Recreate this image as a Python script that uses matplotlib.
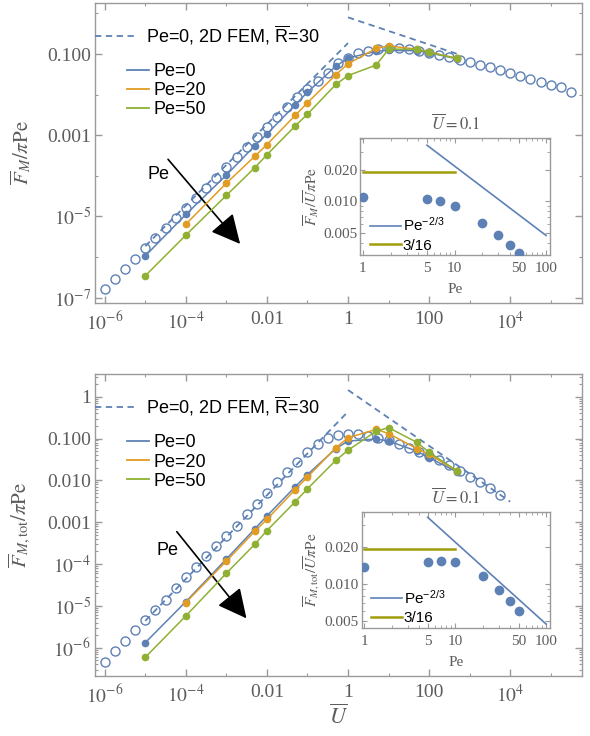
import matplotlib
matplotlib.use("Agg")
import matplotlib.pyplot as plt
import numpy as np
from matplotlib.lines import Line2D
from matplotlib.ticker import FixedLocator, FixedFormatter, NullFormatter, LogLocator

plt.rcParams['font.family'] = 'serif'
plt.rcParams['font.serif'] = ['Liberation Serif', 'DejaVu Serif']
# STIX for the maths, Liberation Sans for \mathsf (upright R in the legend)
plt.rcParams['mathtext.fontset'] = 'custom'
plt.rcParams['mathtext.rm'] = 'STIXGeneral'
plt.rcParams['mathtext.it'] = 'STIXGeneral:italic'
plt.rcParams['mathtext.bf'] = 'STIXGeneral:bold'
plt.rcParams['mathtext.sf'] = 'Liberation Sans'

BLUE = '#5e81b5'
ORANGE = '#e19c24'
GREEN = '#8fb032'
OLIVE = '#a09d0b'
GRAY = '#5c5c5c'
FRAME = '#9a9a9a'
SANS = 'Liberation Sans'

# ---- data (main panels, y values read as log10) ----
U = [1e-5, 1e-4, 1e-3, 5e-3, 1e-2, 5e-2, 0.1, 0.5, 1, 5, 10, 50, 100, 500]
U_pe20 = U[1:]

logF_top_pe0 = [-5.97, -4.95, -3.98, -3.26, -2.97, -2.25, -1.94, -1.30, -1.10, -0.93, -0.91, -0.92, -0.97, -1.12]
logF_top_pe20 = [-5.19, -4.18, -3.52, -3.23, -2.51, -2.20, -1.51, -1.24, -0.86, -0.80, -0.88, -0.95, -1.11]
logF_top_pe50 = [-6.46, -5.46, -4.48, -3.80, -3.48, -2.77, -2.48, -1.75, -1.53, -1.27, -0.88, -0.88, -0.96, -1.11]

logF_bot_pe0 = [-5.88, -4.90, -3.88, -3.16, -2.85, -2.15, -1.86, -1.24, -1.06, -1.01, -1.06, -1.30, -1.46, -1.80]
logF_bot_pe20 = [-4.92, -3.93, -3.22, -2.93, -2.22, -1.92, -1.22, -0.98, -0.78, -0.88, -1.24, -1.38, -1.78]
logF_bot_pe50 = [-6.23, -5.24, -4.22, -3.53, -3.20, -2.51, -2.20, -1.52, -1.28, -0.82, -0.74, -1.09, -1.33, -1.78]

# 2D FEM (Pe=0, R=30), open circles
fem_logU_top = [-6.0, -5.75, -5.5, -5.25, -5.0, -4.75, -4.5, -4.25, -4.0, -3.75, -3.5, -3.25,
                -3.0, -2.75, -2.5, -2.25, -2.0, -1.75, -1.5, -1.25, -1.0, -0.75, -0.5, -0.25,
                0.0, 0.25, 0.5, 0.75, 1.0, 1.25, 1.5, 1.75, 2.0, 2.25, 2.5, 2.75,
                3.0, 3.25, 3.5, 3.75, 4.0, 4.25, 4.5, 4.75, 5.0, 5.25, 5.5]
fem_logF_top = [-6.79, -6.54, -6.29, -6.04, -5.78, -5.54, -5.29, -5.04, -4.79, -4.54, -4.29, -4.04,
                -3.79, -3.54, -3.29, -3.04, -2.80, -2.55, -2.31, -2.07, -1.85, -1.66, -1.46, -1.23,
                -1.10, -0.98, -0.92, -0.88, -0.86, -0.86, -0.88, -0.92, -0.97, -1.02, -1.08, -1.15,
                -1.20, -1.27, -1.33, -1.40, -1.46, -1.53, -1.61, -1.69, -1.77, -1.82, -1.93]
fem_logU_bot = fem_logU_top[:40]
fem_logF_bot = [-6.33, -6.09, -5.83, -5.58, -5.33, -5.09, -4.85, -4.58, -4.32, -4.08, -3.80, -3.56,
                -3.33, -3.08, -2.81, -2.56, -2.30, -2.05, -1.81, -1.57, -1.33, -1.14, -0.98, -0.92,
                -0.89, -0.89, -0.93, -0.98, -1.04, -1.14, -1.23, -1.32, -1.41, -1.51, -1.62, -1.77,
                -1.92, -2.05, -2.19, -2.36]

# FEM asymptotes (dashed)
asym_lo_U = [1e-5, 1.0]
asym_lo_top = [1.86e-6, 0.186]
asym_lo_bot = [4.4e-6, 0.44]
asym_hi_U_top = [1.0, 500.0]
asym_hi_top = [0.80, 0.10]
asym_hi_U_bot = [1.0, 1e4]
asym_hi_bot = [1.45, 0.0031]

# ---- inset data (U = 0.1) ----
pe_inset = [1, 5, 7, 10, 20, 30, 40, 50]
inset_top = [0.0109, 0.0105, 0.0101, 0.0091, 0.0062, 0.0047, 0.0038, 0.0032]
inset_bot = [0.0138, 0.0149, 0.0153, 0.0149, 0.0116, 0.0089, 0.0072, 0.0060]
pe_power = [5, 100]
power_line = [0.0347, 0.0047]
pe_const = [1, 10]
const_line = [0.019, 0.019]

xtick_vals = [1e-6, 1e-4, 1e-2, 1, 1e2, 1e4]
xtick_labels = [r'$10^{-6}$', r'$10^{-4}$', '0.01', '1', '100', r'$10^{4}$']
xminor_vals = [1e-5, 1e-3, 1e-1, 10, 1e3, 1e5]


def style_frame(ax, size):
    for s in ax.spines.values():
        s.set_color(FRAME)
        s.set_linewidth(1.0)
    ax.tick_params(which='both', direction='in', top=True, right=True,
                   color=FRAME, labelcolor=GRAY, labelsize=size)


def main_panel(ax, fu, ff, lo, hi_u, hi, b, o, g, ylab, ylim, yt, ytl, yminor):
    ax.set_xscale('log')
    ax.set_yscale('log')
    ax.plot(10 ** np.array(fu), 10 ** np.array(ff), 'o', mfc='none', mec=BLUE, ms=6.5, mew=1.0, zorder=2)
    ax.plot(asym_lo_U, lo, '--', color=BLUE, lw=1.3, dashes=(3.5, 2.5), zorder=2)
    ax.plot(hi_u, hi, '--', color=BLUE, lw=1.3, dashes=(3.5, 2.5), zorder=2)
    ax.plot(U, 10 ** np.array(b), '-o', color=BLUE, ms=4.5, lw=1.1, zorder=3)
    ax.plot(U_pe20, 10 ** np.array(o), '-o', color=ORANGE, ms=4.5, lw=1.1, zorder=4)
    ax.plot(U, 10 ** np.array(g), '-o', color=GREEN, ms=4.5, lw=1.1, zorder=5)
    ax.set_xlim(10 ** -6.24, 10 ** 5.77)
    ax.set_ylim(*ylim)
    style_frame(ax, 14)
    ax.tick_params(which='major', length=5, width=1)
    ax.tick_params(which='minor', length=2.5, width=0.8)
    ax.tick_params(axis='x', which='both', pad=6)
    ax.tick_params(axis='y', which='both', pad=3)
    ax.xaxis.set_major_locator(FixedLocator(xtick_vals))
    ax.xaxis.set_major_formatter(FixedFormatter(xtick_labels))
    ax.xaxis.set_minor_locator(FixedLocator(xminor_vals))
    ax.xaxis.set_minor_formatter(NullFormatter())
    ax.yaxis.set_major_locator(FixedLocator(yt))
    ax.yaxis.set_major_formatter(FixedFormatter(ytl))
    ax.yaxis.set_minor_locator(yminor)
    ax.yaxis.set_minor_formatter(NullFormatter())
    ax.set_ylabel(ylab, color=GRAY, fontsize=15)
    ax.yaxis.set_label_coords(-0.127, 0.5)

    dash_h = Line2D([], [], color=BLUE, ls='--', lw=1.3, dashes=(3.5, 2.5))
    leg1 = ax.legend([dash_h], [r'Pe=0, 2D FEM, $\overline{\mathsf{R}}$=30'], loc='center left',
                     bbox_to_anchor=(0.0, 0.893), frameon=False, borderpad=0, borderaxespad=0,
                     handlelength=2.3, handletextpad=0.55, prop={'family': SANS, 'size': 13})
    ax.add_artist(leg1)
    hs = [Line2D([], [], color=c, lw=1.3) for c in (BLUE, ORANGE, GREEN)]
    ax.legend(hs, ['Pe=0', 'Pe=20', 'Pe=50'], loc='upper left', bbox_to_anchor=(0.0657, 0.80),
              frameon=False, borderpad=0, borderaxespad=0, handlelength=1.2, handletextpad=0.25,
              labelspacing=0.12, prop={'family': SANS, 'size': 13})


def inset_panel(ax, vals, ylim, ylab):
    ax.set_xscale('log')
    ax.set_yscale('log')
    ax.plot(pe_inset, vals, 'o', color=BLUE, ms=6, zorder=3)
    ax.plot(pe_power, power_line, '-', color=BLUE, lw=1.2, label=r'Pe$^{\mathsf{-2/3}}$')
    ax.plot(pe_const, const_line, '-', color=OLIVE, lw=1.8, label='3/16')
    ax.set_xlim(0.94, 110)
    ax.set_ylim(*ylim)
    style_frame(ax, 11)
    ax.tick_params(which='major', length=3.5, width=0.8)
    ax.tick_params(which='minor', length=2, width=0.6)
    ax.tick_params(axis='x', which='both', pad=5)
    ax.tick_params(axis='y', which='both', pad=2)
    ax.xaxis.set_major_locator(FixedLocator([1, 5, 10, 50, 100]))
    ax.xaxis.set_major_formatter(FixedFormatter(['1', '5', '10', '50', '100']))
    ax.xaxis.set_minor_locator(LogLocator(subs=np.arange(2, 10)))
    ax.xaxis.set_minor_formatter(NullFormatter())
    ax.yaxis.set_major_locator(FixedLocator([0.005, 0.01, 0.02]))
    ax.yaxis.set_major_formatter(FixedFormatter(['0.005', '0.010', '0.020']))
    ax.yaxis.set_minor_locator(LogLocator(subs=np.arange(2, 10)))
    ax.yaxis.set_minor_formatter(NullFormatter())
    ax.set_xlabel('Pe', color=GRAY, fontsize=11, labelpad=6)
    ax.set_ylabel(ylab, color=GRAY, fontsize=11, labelpad=2)
    ax.set_title(r'$\overline{U}=0.1$', color=GRAY, fontsize=12, pad=6)
    ax.legend(loc='lower left', bbox_to_anchor=(0.05, 0.02), frameon=False, borderpad=0,
              borderaxespad=0, handlelength=2.0, handletextpad=0.15, labelspacing=0.3,
              prop={'family': SANS, 'size': 11})


fig = plt.figure(figsize=(5.9, 7.36), dpi=100)

ax1 = fig.add_axes([0.161, 0.5883, 0.8254, 0.4076])
main_panel(ax1, fem_logU_top, fem_logF_top, asym_lo_top, asym_hi_U_top, asym_hi_top,
           logF_top_pe0, logF_top_pe20, logF_top_pe50,
           r'$\overline{F}_M/\pi\mathrm{Pe}$', (10 ** -7.13, 10 ** 0.256),
           [1e-7, 1e-5, 1e-3, 1e-1], [r'$10^{-7}$', r'$10^{-5}$', '0.001', '0.100'],
           FixedLocator([1e-6, 1e-4, 1e-2, 1]))
ax1.annotate('', xy=(0.298, 0.197), xytext=(0.150, 0.479), xycoords='axes fraction',
             arrowprops=dict(arrowstyle='-|>,head_length=1.0,head_width=0.5', color='black',
                             lw=1.2, mutation_scale=18, shrinkA=0, shrinkB=0))
ax1.text(0.131, 0.427, 'Pe', transform=ax1.transAxes, family=SANS, fontsize=13,
         ha='center', va='center')

ax2 = fig.add_axes([0.161, 0.0815, 0.8254, 0.4103])
main_panel(ax2, fem_logU_bot, fem_logF_bot, asym_lo_bot, asym_hi_U_bot, asym_hi_bot,
           logF_bot_pe0, logF_bot_pe20, logF_bot_pe50,
           r'$\overline{F}_{M,\mathrm{tot}}/\pi\mathrm{Pe}$', (10 ** -6.677, 10 ** 0.543),
           [1e-6, 1e-5, 1e-4, 1e-3, 1e-2, 1e-1, 1],
           [r'$10^{-6}$', r'$10^{-5}$', r'$10^{-4}$', '0.001', '0.010', '0.100', '1'],
           LogLocator(subs=np.arange(2, 10)))
ax2.annotate('', xy=(0.311, 0.191), xytext=(0.168, 0.478), xycoords='axes fraction',
             arrowprops=dict(arrowstyle='-|>,head_length=1.0,head_width=0.5', color='black',
                             lw=1.2, mutation_scale=18, shrinkA=0, shrinkB=0))
ax2.text(0.148, 0.414, 'Pe', transform=ax2.transAxes, family=SANS, fontsize=13,
         ha='center', va='center')
ax2.set_xlabel(r'$\overline{U}$', color=GRAY, fontsize=16)
ax2.xaxis.set_label_coords(0.5, -0.095)

ins1 = fig.add_axes([0.611, 0.6535, 0.321, 0.1586])
inset_panel(ins1, inset_top, (0.00305, 0.0404), r'$\overline{F}_M/\overline{U}\pi\mathrm{Pe}$')
ins2 = fig.add_axes([0.613, 0.1471, 0.319, 0.1568])
inset_panel(ins2, inset_bot, (0.00439, 0.0381),
            r'$\overline{F}_{M,\mathrm{tot}}/\overline{U}\pi\mathrm{Pe}$')

fig.savefig('out.png', dpi=100)
